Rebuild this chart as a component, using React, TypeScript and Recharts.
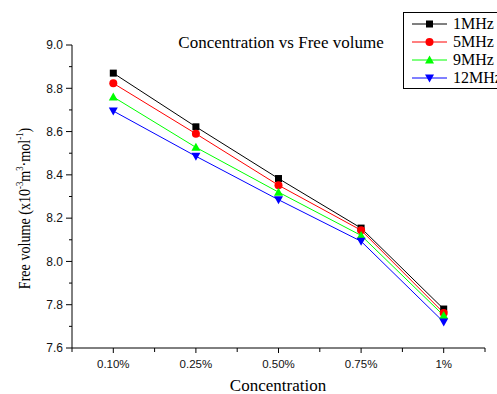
import React from "react";
import { LineChart, Line, XAxis, YAxis, Customized } from "recharts";

const categories = ["0.10%", "0.25%", "0.50%", "0.75%", "1%"];
const mhz1 = [8.87, 8.622, 8.383, 8.154, 7.78];
const mhz5 = [8.823, 8.59, 8.352, 8.144, 7.762];
const mhz9 = [8.76, 8.527, 8.32, 8.12, 7.75];
const mhz12 = [8.695, 8.486, 8.285, 8.093, 7.72];
const yTicksAll = [7.6, 7.7, 7.8, 7.9, 8.0, 8.1, 8.2, 8.3, 8.4, 8.5, 8.6, 8.7, 8.8, 8.9, 9.0];
const xTicksAll = [-0.5, 0, 0.5, 1, 1.5, 2, 2.5, 3, 3.5, 4, 4.5];

const data = categories.map((c, i) => ({
  x: i,
  cat: c,
  m1: mhz1[i],
  m5: mhz5[i],
  m9: mhz9[i],
  m12: mhz12[i],
}));

const series = [
  { key: "m1", name: "1MHz", color: "#000000", shape: "square" },
  { key: "m5", name: "5MHz", color: "#ff0000", shape: "circle" },
  { key: "m9", name: "9MHz", color: "#00ff00", shape: "up" },
  { key: "m12", name: "12MHz", color: "#0000ff", shape: "down" },
];

function Marker({ cx, cy, shape, color }: any) {
  if (cx == null || cy == null) return null;
  if (shape === "square") return <rect x={cx - 3.5} y={cy - 3.5} width={7} height={7} fill={color} />;
  if (shape === "circle") return <circle cx={cx} cy={cy} r={4} fill={color} />;
  if (shape === "up")
    return <polygon points={`${cx - 4.5},${cy + 3.5} ${cx + 4.5},${cy + 3.5} ${cx},${cy - 4.5}`} fill={color} />;
  return <polygon points={`${cx - 4.5},${cy - 3.5} ${cx + 4.5},${cy - 3.5} ${cx},${cy + 4.5}`} fill={color} />;
}

const serif = "'Liberation Serif', 'Times New Roman', serif";
const sans = "'Liberation Sans', Arial, sans-serif";

function isMajorY(v: number) {
  return Math.abs(Math.round(v * 5) - v * 5) < 1e-6;
}

function YTick({ x, y, payload }: any) {
  const v = payload.value as number;
  const major = isMajorY(v);
  return (
    <g>
      <line x1={x - (major ? 6 : 3)} y1={y} x2={x} y2={y} stroke="#000" strokeWidth={1} />
      {major && (
        <text x={x - 9} y={y} dy="0.355em" textAnchor="end" fontFamily={sans} fontSize={12} fill="#111">
          {v.toFixed(1)}
        </text>
      )}
    </g>
  );
}

function XTick({ x, y, payload }: any) {
  const v = payload.value as number;
  const major = Number.isInteger(v);
  return (
    <g>
      <line x1={x} y1={y} x2={x} y2={y + (major ? 5 : 4)} stroke="#000" strokeWidth={1} />
      {major && (
        <text x={x} y={y + 19.5} textAnchor="middle" fontFamily={sans} fontSize={11.5} fill="#111">
          {categories[v]}
        </text>
      )}
    </g>
  );
}

function LegendBox() {
  return (
    <div
      style={{
        position: "absolute",
        left: 403,
        top: 12,
        border: "1px solid #000",
        background: "#fff",
        width: 110,
        height: 77,
        padding: "2px 0 0 0",
        boxSizing: "border-box",
      }}
    >
      {series.map((s) => (
        <div key={s.key} style={{ display: "flex", alignItems: "center", height: 18 }}>
          <svg width={46} height={18} style={{ display: "block" }}>
            <line x1={8} y1={9} x2={43} y2={9} stroke={s.color} strokeWidth={1} />
            <Marker cx={25.5} cy={9} shape={s.shape} color={s.color} />
          </svg>
          <span style={{ fontFamily: serif, fontSize: 16, color: "#000", lineHeight: "18px", marginLeft: 3 }}>
            {s.name}
          </span>
        </div>
      ))}
    </div>
  );
}

function Texts() {
  return (
    <g>
      <text x={281} y={48} textAnchor="middle" fontFamily={serif} fontSize={17} fill="#000">
        Concentration vs Free volume
      </text>
      <text x={278} y={391} textAnchor="middle" fontFamily={serif} fontSize={17} fill="#000">
        Concentration
      </text>
      <text
        x={0}
        y={0}
        transform="translate(30,208.5) rotate(-90) scale(0.83,1)"
        textAnchor="middle"
        fontFamily={serif}
        fontSize={17}
        fill="#000"
      >
        Free volume (x10
        <tspan fontSize={10.5} dy={-7}>-3</tspan>
        <tspan dy={7}>m</tspan>
        <tspan fontSize={10.5} dy={-7}>3</tspan>
        <tspan dy={7}>·mol</tspan>
        <tspan fontSize={10.5} dy={-7}>-1</tspan>
        <tspan dy={7}>)</tspan>
      </text>
    </g>
  );
}

export default function App() {
  return (
    <div style={{ position: "absolute", left: 0, top: 0, width: 497, height: 394, background: "#fff", overflow: "hidden" }}>
      <LineChart width={497} height={394} data={data} margin={{ top: 45, right: 12, left: 0, bottom: 0 }}>
        <XAxis
          dataKey="x"
          type="number"
          domain={[-0.5, 4.5]}
          ticks={xTicksAll}
          interval={0}
          axisLine={{ stroke: "#000" }}
          tickLine={false}
          tickSize={0}
          tickMargin={0}
          height={46}
          tick={<XTick />}
          allowDataOverflow
        />
        <YAxis
          type="number"
          domain={[7.6, 9.0]}
          ticks={yTicksAll}
          interval={0}
          axisLine={{ stroke: "#000" }}
          tickLine={false}
          tickSize={0}
          tickMargin={0}
          width={72}
          tick={<YTick />}
          allowDataOverflow
        />
        {series.map((s) => (
          <Line
            key={s.key}
            dataKey={s.key}
            name={s.name}
            stroke={s.color}
            strokeWidth={1}
            isAnimationActive={false}
            dot={(p: any) => <Marker key={`${s.key}-${p.index}`} cx={p.cx} cy={p.cy} shape={s.shape} color={s.color} />}
            activeDot={false}
          />
        ))}
        <Customized component={Texts} />
      </LineChart>
      <LegendBox />
    </div>
  );
}
